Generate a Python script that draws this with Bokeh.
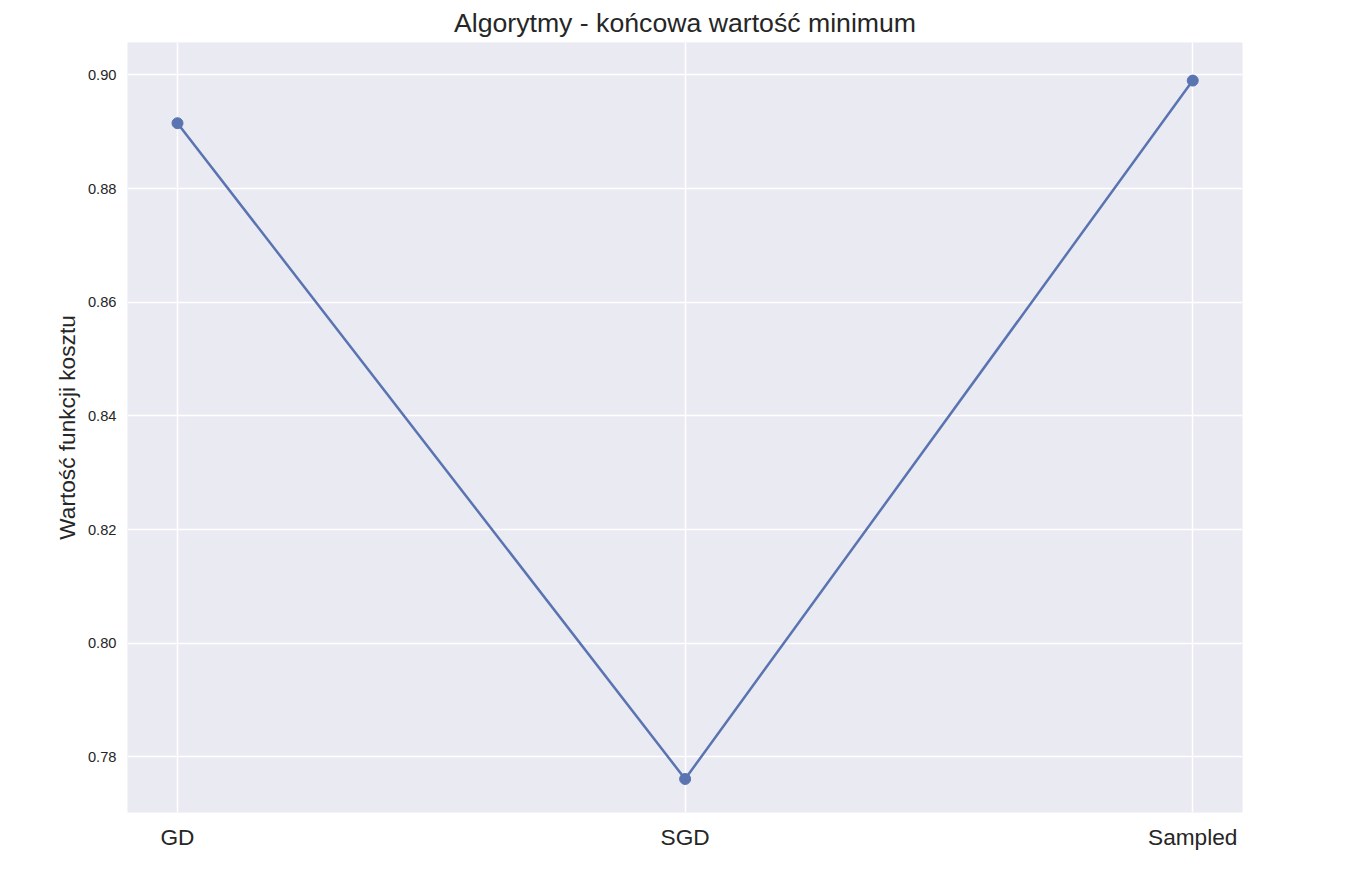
from bokeh.plotting import figure
from bokeh.models import Range1d, FixedTicker
from bokeh.embed import file_html
from bokeh.resources import INLINE

algorithms = ["GD", "SGD", "Sampled"]
min_values = [0.8915, 0.7761, 0.8990]
y_ticks = [0.78, 0.80, 0.82, 0.84, 0.86, 0.88, 0.90]

xs = list(range(len(algorithms)))
p = figure(width=1340, height=860, output_backend="svg", toolbar_location=None,
           x_range=Range1d(-0.0985, 2.098), y_range=Range1d(0.7702, 0.9057),
           min_border_left=127, min_border_right=98, min_border_top=42, min_border_bottom=48,
           title="Algorytmy - końcowa wartość minimum")
p.title.align = "center"
p.title.text_font = "Liberation Sans"
p.title.text_font_size = "20pt"
p.title.text_font_style = "normal"
p.title.text_color = "#262626"
p.background_fill_color = "#EAEAF2"
p.outline_line_color = None
p.border_fill_color = "white"
p.xaxis.ticker = FixedTicker(ticks=xs)
p.xaxis.major_label_overrides = {i: a for i, a in enumerate(algorithms)}
p.yaxis.ticker = FixedTicker(ticks=y_ticks)
p.yaxis.major_label_overrides = {t: f"{t:.2f}" for t in y_ticks}
for ax in (p.xaxis, p.yaxis):
    ax.axis_line_color = None
    ax.major_tick_line_color = None
    ax.minor_tick_line_color = None
    ax.major_label_text_font = "Liberation Sans"
    ax.major_label_text_color = "#262626"
p.xaxis.major_label_text_font_size = "17pt"
p.yaxis.major_label_text_font_size = "11pt"
p.yaxis.axis_label = "Wartość funkcji kosztu"
p.yaxis.axis_label_text_font = "Liberation Sans"
p.yaxis.axis_label_text_font_size = "17pt"
p.yaxis.axis_label_text_font_style = "normal"
p.yaxis.axis_label_text_color = "#262626"
p.grid.grid_line_color = "white"
p.grid.grid_line_width = 1.5
p.line(xs, min_values, line_color="#5A74B2", line_width=2.5)
p.scatter(xs, min_values, size=11, fill_color="#5A74B2", line_color="#5A74B2")

open("out.html", "w").write(file_html(p, INLINE))
